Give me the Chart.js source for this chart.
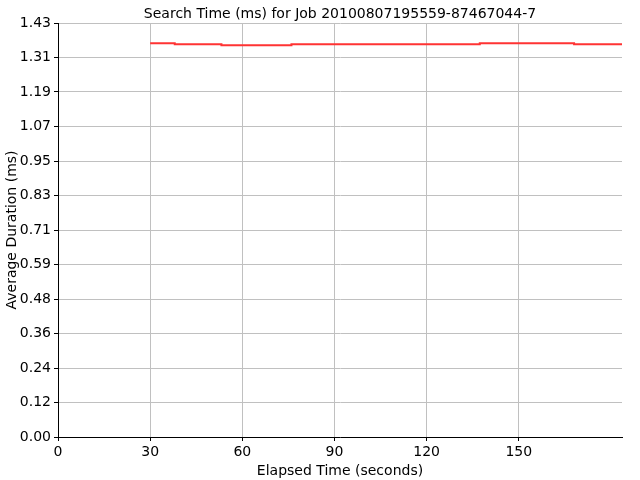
<!DOCTYPE html>
<html>
	<head>
		<meta charset="UTF-8" />
		<title>Search Time</title>
		<script src="https://cdn.jsdelivr.net/npm/chart.js@4"></script>
		<style type="text/css">
			body { margin: 0; background: #ffffff; }
		</style>
	</head>
	<body>
		<canvas id="myChart" width="640" height="480"></canvas>
		<script>
			// step points (seconds, ms)
			var elapsed = [30, 38, 53.2, 76, 137.3, 168, 183.6];
			var duration = [1.358, 1.3545, 1.351, 1.3545, 1.358, 1.3545, 1.3545];

			var xTicks = [0, 30, 60, 90, 120, 150];
			var yTickLabels = ['0.00', '0.12', '0.24', '0.36', '0.48', '0.59', '0.71',
				'0.83', '0.95', '1.07', '1.19', '1.31', '1.43'];
			var yStep = 0.119;
			var xMax = 183.6;

			var points = [];
			for (let i = 0; i < elapsed.length; i++) {
				points.push({x: elapsed[i], y: duration[i]});
			}

			const ctx = document.getElementById('myChart').getContext('2d');
			const font = {family: "'DejaVu Sans', sans-serif", size: 14};

			const myChart = new Chart(ctx, {
				type: 'line',
				data: {
					datasets: [{
						label: 'Search Time',
						data: points,
						borderColor: '#ff3333',
						borderWidth: 2,
						pointRadius: 0,
						stepped: true,
						fill: false
					}]
				},
				options: {
					responsive: false,
					animation: false,
					layout: {padding: {left: 4, right: 18, top: 0, bottom: 0}},
					plugins: {
						legend: {display: false},
						tooltip: {enabled: false}
					},
					scales: {
						x: {
							type: 'linear',
							min: 0,
							max: xMax,
							afterBuildTicks: function(axis) {
								axis.ticks = xTicks.map(function(v) { return {value: v}; });
							},
							afterFit: function(axis) { axis.height = 43; },
							ticks: {color: '#000', font: font, padding: 3, maxRotation: 0,
								callback: function(v) { return String(v); }},
							grid: {color: '#c0c0c0', tickColor: '#000', tickLength: 4},
							border: {color: '#000', width: 1},
							title: {display: true, text: 'Elapsed Time (seconds)', color: '#000', font: font,
								padding: {top: 7, bottom: 0}}
						},
						top: {
							type: 'linear',
							position: 'top',
							min: 0,
							max: xMax,
							grid: {display: false},
							border: {display: false},
							ticks: {display: false},
							afterFit: function(axis) { axis.height = 23; },
							title: {display: true, text: 'Search Time (ms) for Job 20100807195559-87467044-7',
								color: '#000', font: font, padding: {top: 6, bottom: 0}}
						},
						y: {
							min: 0,
							max: yStep * 12,
							afterBuildTicks: function(axis) {
								axis.ticks = yTickLabels.map(function(l, i) { return {value: i * yStep}; });
							},
							afterFit: function(axis) { axis.width = 54; },
							ticks: {color: '#000', font: font, padding: 3,
								callback: function(v, i) { return yTickLabels[i]; }},
							grid: {color: '#c0c0c0', tickColor: '#000', tickLength: 4},
							border: {color: '#000', width: 1},
							title: {display: true, text: 'Average Duration (ms)', color: '#000', font: font,
								padding: {top: 0, bottom: 0}}
						}
					}
				}
			});
		</script>
	</body>
</html>
